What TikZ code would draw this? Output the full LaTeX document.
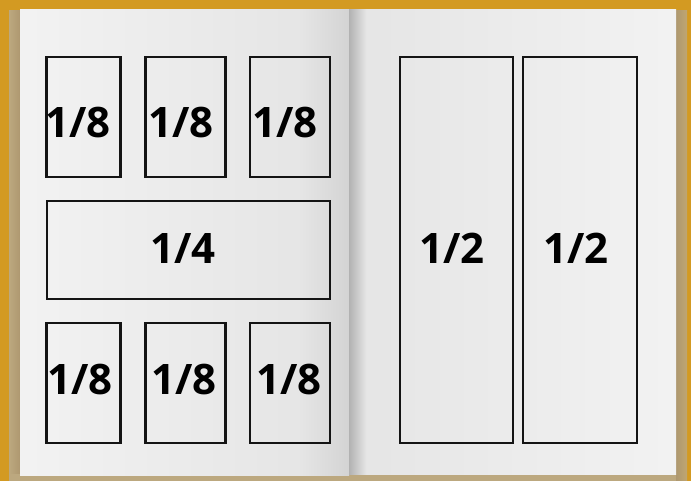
\documentclass[tikz,border=0pt]{standalone}
\usepackage{fontspec}
\setmainfont{Open Sans}
\begin{document}
\begin{tikzpicture}[x=1pt,y=-1pt,
  panel/.style={draw=black!92,line width=2.5pt,fill=none},
  frac/.style={font=\bfseries\fontsize{42}{42}\selectfont,inner sep=0pt,anchor=base,text=black}]
\definecolor{gold}{HTML}{D39A22}
\definecolor{tan}{HTML}{BCA87F}
\definecolor{tandark}{HTML}{AE9870}
\useasboundingbox (0,0) rectangle (691,481);
\fill[gold] (0,0) rectangle (691,481);
% shadows
\shade[left color=tan,right color=tandark] (9,11) rectangle (20,481);
\fill[tan] (9,474) rectangle (687,481);
\shade[left color=tandark,right color=tan!85!gold] (676,11) rectangle (687,481);
% left page
\shade[left color=black!5,right color=black!10] (20,10) rectangle (300,475);
\shade[left color=black!10,right color=black!17] (300,10) rectangle (349,475);
% right page
\shade[left color=black!30,right color=black!10] (349,10) rectangle (366,474);
\shade[left color=black!10,right color=black!5] (366,10) rectangle (676,474);
% panels
\node[panel,minimum width=74pt,minimum height=120pt] (t1) at (83.5,117) {};
\node[panel,minimum width=80pt,minimum height=120pt] (t2) at (185.5,117) {};
\node[panel,minimum width=80pt,minimum height=120pt] (t3) at (290,117) {};
\node[panel,minimum width=283pt,minimum height=98pt] (m) at (188.5,250) {};
\node[panel,minimum width=74pt,minimum height=120pt] (b1) at (83.5,383) {};
\node[panel,minimum width=80pt,minimum height=120pt] (b2) at (185.5,383) {};
\node[panel,minimum width=80pt,minimum height=120pt] (b3) at (290,383) {};
\node[panel,minimum width=113pt,minimum height=386pt] (r1) at (456.5,250) {};
\node[panel,minimum width=114pt,minimum height=386pt] (r2) at (580,250) {};
% labels
\node[frac] (lt1) at (78,138) {1/8};
\node[frac] (lt2) at (181,138) {1/8};
\node[frac] (lt3) at (285,138) {1/8};
\node[frac] (lm) at (183,264) {1/4};
\node[frac] (lb1) at (80,394) {1/8};
\node[frac] (lb2) at (184,394) {1/8};
\node[frac] (lb3) at (289,394) {1/8};
\node[frac] (lr1) at (452,264) {1/2};
\node[frac] (lr2) at (576,264) {1/2};
\end{tikzpicture}
\end{document}
